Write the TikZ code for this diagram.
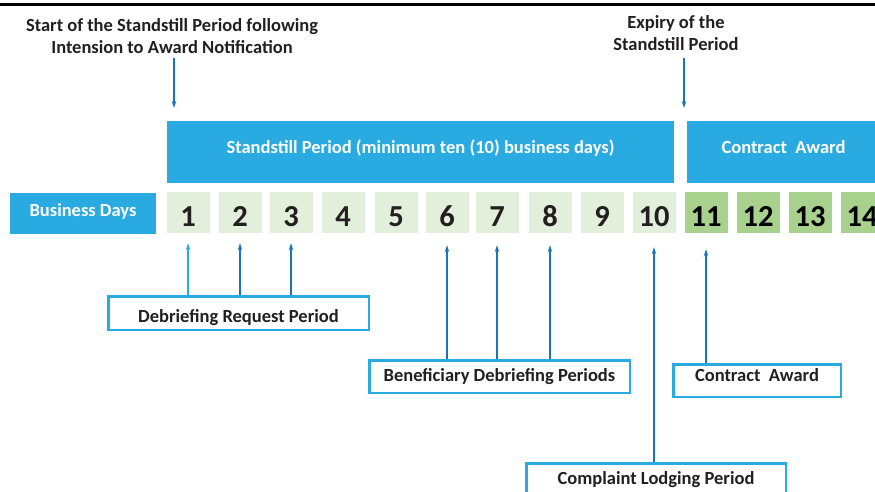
\documentclass[tikz,border=0pt]{standalone}
\usepackage{fontspec}
\setmainfont{Carlito}
\usetikzlibrary{positioning,arrows.meta}
\definecolor{sblue}{RGB}{41,171,226}
\definecolor{darrow}{RGB}{28,114,188}
\definecolor{lgreen}{RGB}{226,239,218}
\definecolor{dgreen}{RGB}{169,209,142}
\definecolor{txtgray}{RGB}{35,31,32}

\begin{document}
\begin{tikzpicture}[x=1pt,y=-1pt,
    bluebox/.style={fill=sblue, text=white, inner sep=0pt, text height=14pt, font=\bfseries\fontsize{18.5}{22}\selectfont},
    daybox/.style={minimum width=43pt, minimum height=41pt, inner sep=0pt, text height=28pt, text depth=0pt, font=\bfseries\fontsize{30.5}{32}\selectfont},
    periodbox/.style={draw=sblue, line width=2.5pt, fill=white, inner sep=0pt, text height=14pt, text=txtgray, font=\bfseries\fontsize{18.5}{22}\selectfont},
    toplabel/.style={align=center, inner sep=0pt, outer sep=4pt, text=txtgray, font=\bfseries\fontsize{18.5}{22.3}\selectfont},
    arr/.style={darrow, line width=1.7pt, -{Stealth[length=7pt,width=4.5pt]}}]
    \useasboundingbox (0,0) rectangle (875,492);

    % heavy rule along the top edge
    \draw[line width=2.5pt] (0,4.3) -- (875,4.3);

    % labels above the timeline
    \node[toplabel, anchor=south] (startlbl) at (172,58) {Start of the Standstill Period following\\Intension to Award Notification};
    \node[toplabel, anchor=south] (expirylbl) at (676,54.7) {Expiry of the\\Standstill Period};

    % the two blue bands
    \node[bluebox, text depth=11.4pt, minimum width=507pt, minimum height=62pt] (standstill) at (420.5,152) {Standstill Period (minimum ten (10) business days)};
    \node[bluebox, text depth=11.4pt, minimum width=193pt, minimum height=62pt] (awardtop) at (783.5,152) {Contract~ Award};
    \node[bluebox, text depth=9pt, minimum width=146pt, minimum height=41pt] (busdays) at (83,213.5) {Business Days};

    % day boxes 1..14, the first ten inside the standstill period
    \foreach \i/\dx in {1/188,2/240,3/291,4/343,5/396,6/447,7/497,8/550,9/602,10/654,11/706,12/758,13/810,14/862} {
        \ifnum\i<11
            \node[daybox, fill=lgreen, text=txtgray] (d\i) at (\dx,212.5) {\i};
        \else
            \node[daybox, fill=dgreen, text=black] (d\i) at (\dx,212.5) {\i};
        \fi
    }

    % arrows marking start and expiry
    \coordinate (startpt) at (174,108);
    \coordinate (expirypt) at (684,108);
    \draw[arr] (startlbl.south -| startpt) -- (startpt);
    \draw[arr] ([yshift=-3pt]expirylbl.south -| expirypt) -- (expirypt);

    % period boxes below the timeline
    \node[periodbox, text height=22pt, text depth=4pt, minimum width=260.5pt, minimum height=33.5pt] (request) at (238.5,313) {Debriefing Request Period};
    \node[periodbox, text depth=5pt, minimum width=260.5pt, minimum height=32.5pt] (benef) at (499.5,376.5) {Beneficiary Debriefing Periods};
    \node[periodbox, text depth=13pt, minimum width=167.5pt, minimum height=32.5pt] (awardlow) at (757,380.5) {Contract~ Award};
    \node[periodbox, text depth=8pt, minimum width=259.5pt, minimum height=35.5pt] (complaint) at (656,481) {Complaint Lodging Period};

    % arrows from the periods up to their days
    \draw[arr, sblue] (d1 |- request.north) -- ([yshift=-10pt]d1.south);
    \foreach \i in {2,3} {
        \draw[arr] (d\i |- request.north) -- ([yshift=-10pt]d\i.south);
    }
    \foreach \i in {6,7,8} {
        \draw[arr] (d\i |- benef.north) -- ([yshift=-12pt]d\i.south);
    }
    \draw[arr] (d10 |- complaint.north) -- ([yshift=-14pt]d10.south);
    \draw[arr] (d11 |- awardlow.north) -- ([yshift=-16pt]d11.south);
\end{tikzpicture}
\end{document}
